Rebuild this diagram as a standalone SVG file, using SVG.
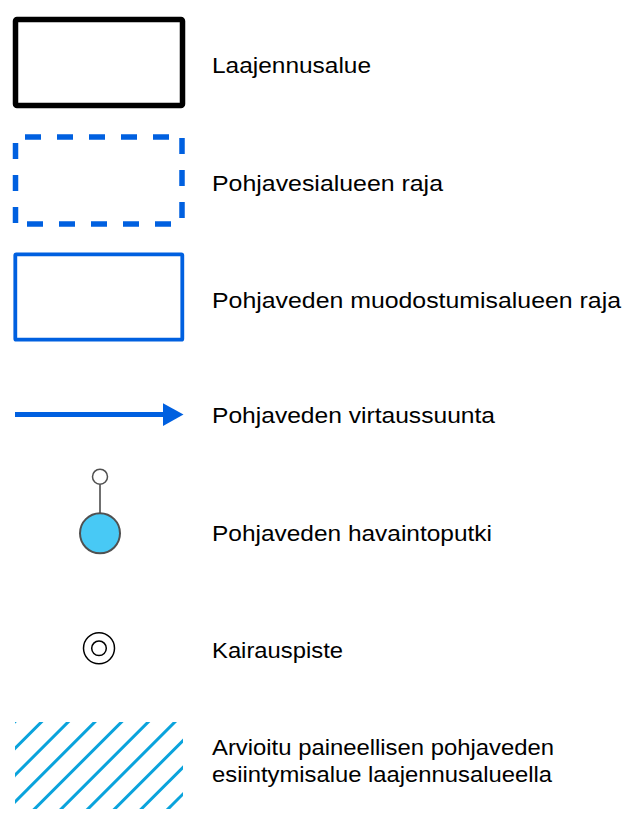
<svg xmlns="http://www.w3.org/2000/svg" width="640" height="825" viewBox="0 0 640 825">
  <style>
    .lbl { font-family: "Liberation Sans", Arial, sans-serif; font-size: 22px; fill: #000; }
    .blue { stroke: #0060e0; fill: none; }
  </style>
  <defs>
    <clipPath id="hatchClip">
      <rect x="15" y="722" width="168" height="87"/>
    </clipPath>
  </defs>
  <rect width="640" height="825" fill="#fff"/>

  <!-- Laajennusalue -->
  <g id="laajennusalue">
    <rect x="15.5" y="19.5" width="167" height="86" rx="1.5" fill="none" stroke="#000" stroke-width="5.5"/>
    <text class="lbl" x="212" y="73.3" textLength="159" lengthAdjust="spacingAndGlyphs">Laajennusalue</text>
  </g>

  <!-- Pohjavesialueen raja -->
  <g id="pohjavesialue">
    <g class="blue" stroke-width="5.5" stroke-dasharray="16 16">
      <line x1="25" y1="137" x2="170" y2="137"/>
      <line x1="27" y1="224" x2="172" y2="224"/>
      <line x1="15.5" y1="143" x2="15.5" y2="224"/>
      <line x1="182" y1="138" x2="182" y2="219"/>
    </g>
    <text class="lbl" x="212" y="190.7" textLength="231" lengthAdjust="spacingAndGlyphs">Pohjavesialueen raja</text>
  </g>

  <!-- Pohjaveden muodostumisalueen raja -->
  <g id="muodostumisalue">
    <rect x="15.3" y="254.3" width="167" height="85.4" rx="1" class="blue" stroke-width="3.8"/>
    <text class="lbl" x="212" y="307.7" textLength="409" lengthAdjust="spacingAndGlyphs">Pohjaveden muodostumisalueen raja</text>
  </g>

  <!-- Pohjaveden virtaussuunta -->
  <g id="virtaussuunta">
    <g id="connectors">
      <line x1="15" y1="414.5" x2="165" y2="414.5" stroke="#0060e0" stroke-width="5"/>
      <polygon points="163,403.3 183.5,414.5 163,426" fill="#0060e0"/>
    </g>
    <text class="lbl" x="212" y="423" textLength="283" lengthAdjust="spacingAndGlyphs">Pohjaveden virtaussuunta</text>
  </g>

  <!-- Pohjaveden havaintoputki -->
  <g id="havaintoputki">
    <line x1="100" y1="484.5" x2="100" y2="514" stroke="#707070" stroke-width="2"/>
    <circle cx="100" cy="476.7" r="7.5" fill="#fff" stroke="#505050" stroke-width="1.5"/>
    <circle cx="100" cy="533.3" r="20" fill="#48c9f5" stroke="#505050" stroke-width="2"/>
    <text class="lbl" x="212" y="541.3" textLength="280" lengthAdjust="spacingAndGlyphs">Pohjaveden havaintoputki</text>
  </g>

  <!-- Kairauspiste -->
  <g id="kairauspiste">
    <circle cx="99" cy="648.3" r="15.5" fill="none" stroke="#000" stroke-width="1.5"/>
    <circle cx="99" cy="648.3" r="7.3" fill="none" stroke="#000" stroke-width="1.5"/>
    <text class="lbl" x="212" y="658.3" textLength="131" lengthAdjust="spacingAndGlyphs">Kairauspiste</text>
  </g>

  <!-- Paineellisen pohjaveden esiintymisalue -->
  <g id="paineellinen">
    <g clip-path="url(#hatchClip)" stroke="#0aa3dc" stroke-width="3">
      <line x1="0" y1="736.7" x2="200" y2="536.7"/>
      <line x1="0" y1="763.4" x2="200" y2="563.4"/>
      <line x1="0" y1="790.1" x2="200" y2="590.1"/>
      <line x1="0" y1="816.8" x2="200" y2="616.8"/>
      <line x1="0" y1="843.5" x2="200" y2="643.5"/>
      <line x1="0" y1="870.2" x2="200" y2="670.2"/>
      <line x1="0" y1="896.9" x2="200" y2="696.9"/>
      <line x1="0" y1="923.6" x2="200" y2="723.6"/>
      <line x1="0" y1="950.3" x2="200" y2="750.3"/>
      <line x1="0" y1="977.0" x2="200" y2="777.0"/>
    </g>
    <text class="lbl" x="212" y="755" textLength="342" lengthAdjust="spacingAndGlyphs">Arvioitu paineellisen pohjaveden</text>
    <text class="lbl" x="212" y="781.7" textLength="340" lengthAdjust="spacingAndGlyphs">esiintymisalue laajennusalueella</text>
  </g>
</svg>
